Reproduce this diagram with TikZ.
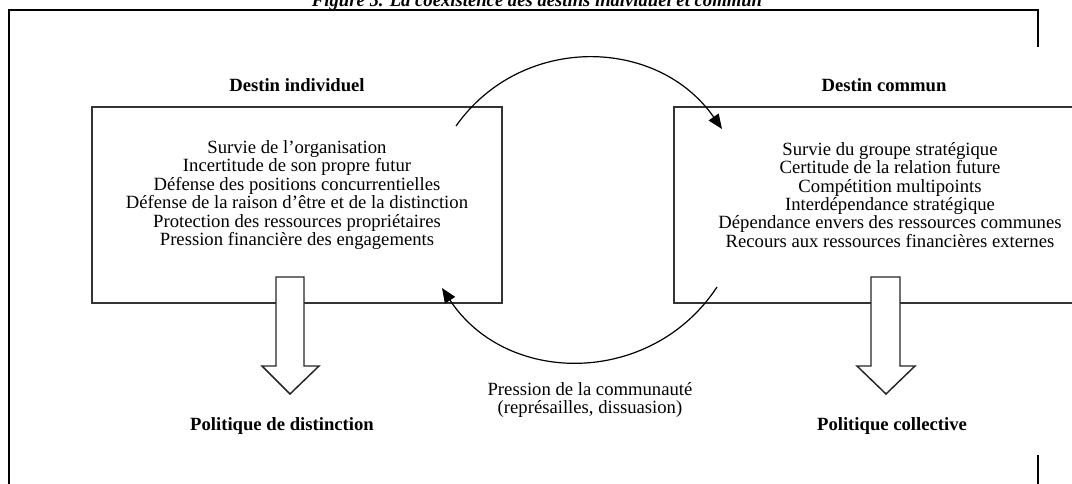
\documentclass[tikz,border=0pt]{standalone}
\usepackage{fontspec}
\setmainfont{Liberation Serif}
\usetikzlibrary{arrows.meta}

\begin{document}
\begin{tikzpicture}[
    x=0.75pt, y=-0.75pt,
    frame/.style={line width=2pt, black},
    box/.style={draw=black!80, line width=1.1pt, inner sep=0pt},
    items/.style={align=center, font=\fontsize{14}{13.8}\selectfont},
    head/.style={anchor=base, font=\fontsize{14}{13.8}\selectfont\bfseries},
    bigarrow/.style={draw=black!85, line width=1.1pt, fill=white},
    arc/.style={line width=0.9pt, -{Triangle[length=11pt, width=9pt]}}
]
\useasboundingbox (0,0) rectangle (1072,484);

% Frame :
\node[font=\fontsize{14}{16}\selectfont\bfseries\itshape, anchor=base] (title) at (537,7) {Figure 5. La coexistence des destins individuel et commun};
\draw[frame] (9,484) -- (9,10) -- (1038,10) -- (1038,47);
\draw[frame] (1038,455) -- (1038,484);

% Boxes :
\node[box, minimum width=307.5pt, minimum height=147pt] (indiv) at (297,205) {};
\node[box, minimum width=319.5pt, minimum height=147pt] (commun) at (887,205) {};

\node[head] (indivhead) at (297,92) {Destin individuel};
\node[head] (communhead) at (884,92) {Destin commun};

\node[items] (indivlist) at (297,195) {Survie de l’organisation\\Incertitude de son propre futur\\Défense des positions concurrentielles\\Défense de la raison d’être et de la distinction\\Protection des ressources propriétaires\\Pression financière des engagements};
\node[items] (communlist) at (890,195) {Survie du groupe stratégique\\Certitude de la relation future\\Compétition multipoints\\Interdépendance stratégique\\Dépendance envers des ressources communes\\Recours aux ressources financières externes};

% Down arrows :
\draw[bigarrow] (276,277) -- (304,277) -- (304,366) -- (319,366) -- (290,394) -- (262,366) -- (276,366) -- cycle;
\draw[bigarrow] (871,277) -- (900,277) -- (900,366) -- (915,366) -- (886,394) -- (857,366) -- (871,366) -- cycle;

\node[head] (distinct) at (282,431) {Politique de distinction};
\node[head] (collect) at (892,431) {Politique collective};

% Arcs :
\coordinate (a1) at (456,126);
\coordinate (a2) at (722,129);
\coordinate (b1) at (717,287);
\coordinate (b2) at (442,288);
\draw[arc] (a1) .. controls (521,34) and (657,36) .. (a2);
\draw[arc] (b1) .. controls (652,386) and (507,387) .. (b2);

\node[items] (pression) at (590,400) {Pression de la communauté\\(représailles, dissuasion)};

\end{tikzpicture}
\end{document}
